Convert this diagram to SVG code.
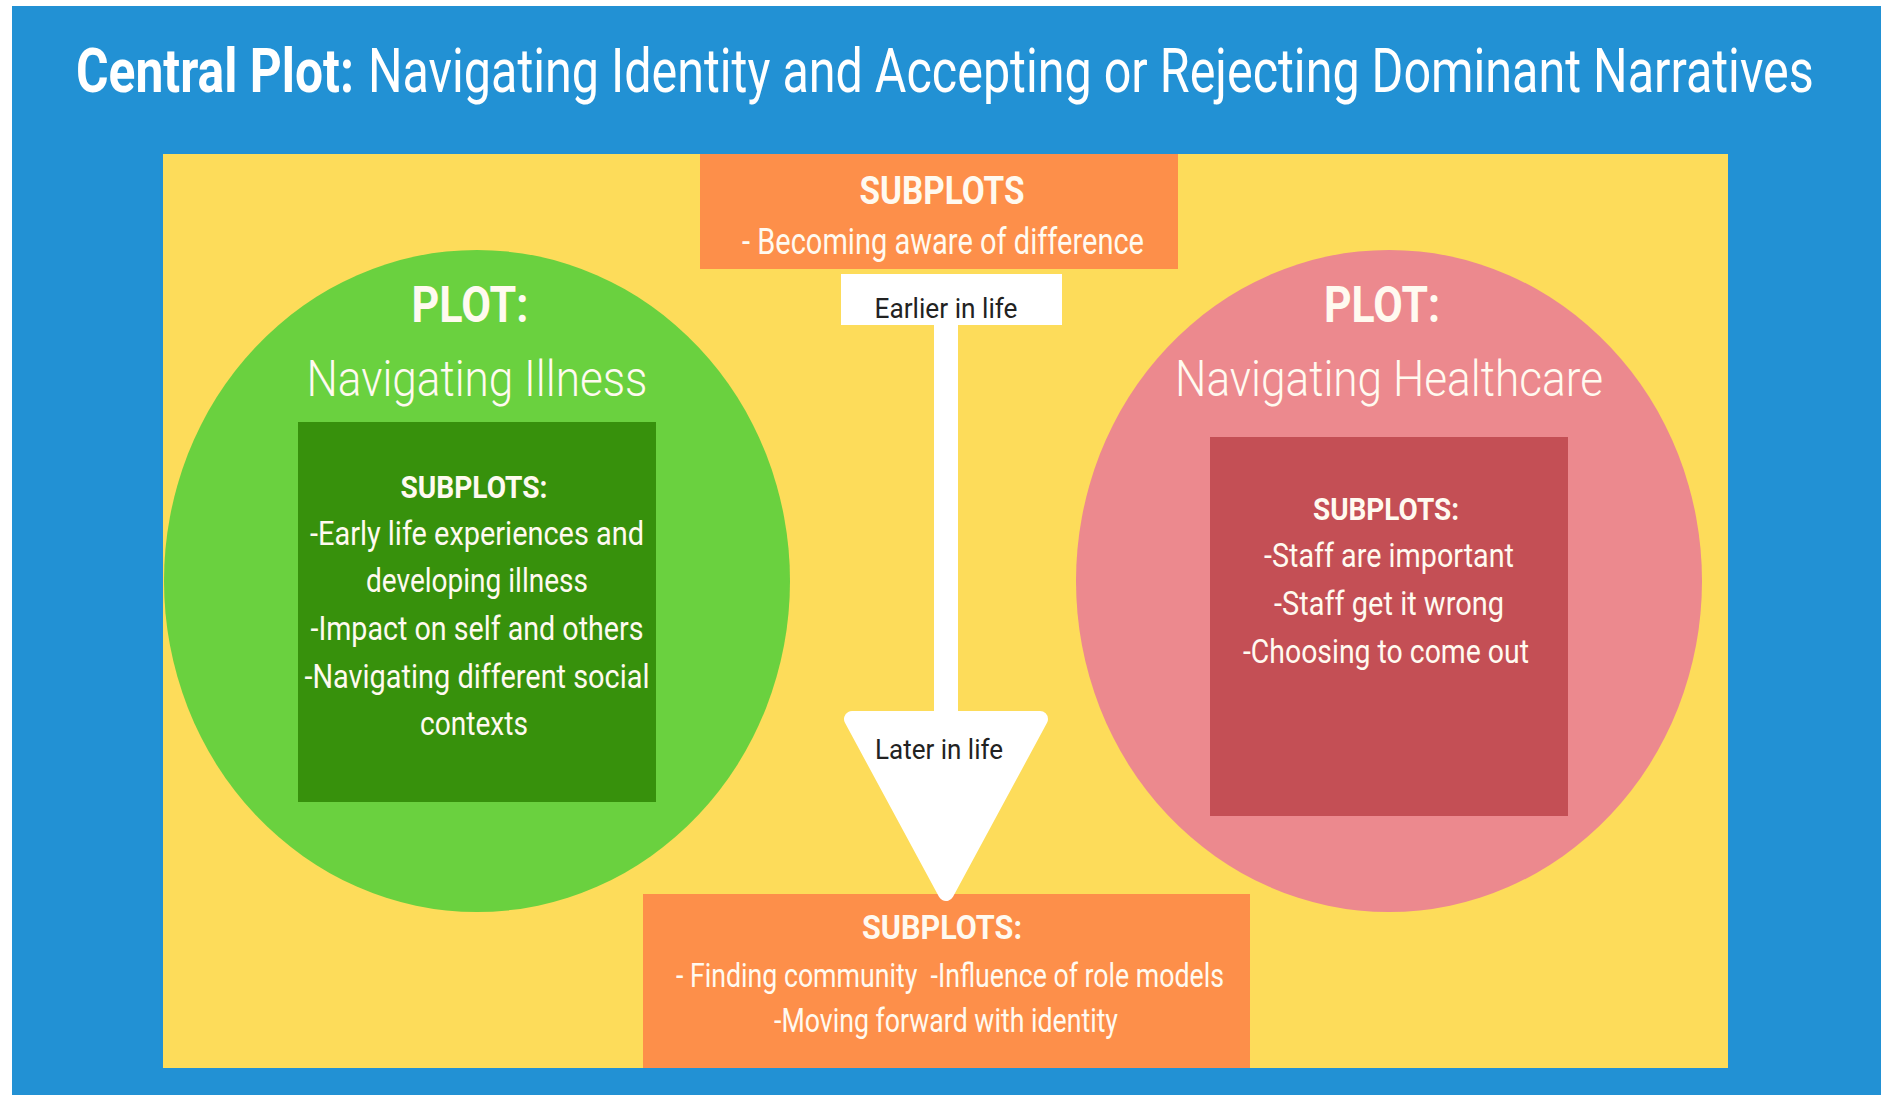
<svg xmlns="http://www.w3.org/2000/svg" width="1881" height="1095" viewBox="0 0 1881 1095">
  <style>
    text { font-family: Roboto, "Liberation Sans", sans-serif; text-anchor: middle; fill: #fffaf0; }
    .b { font-weight: 700; }
    .title { font-size: 62px; text-anchor: start; fill: #ffffff; }
    .plot { font-size: 50px; font-weight: 700; }
    .plotname { font-size: 50px; font-weight: 300; }
    .sub { font-size: 32px; font-weight: 700; }
    .item { font-size: 33px; }
    .dark { fill: #222222; font-size: 28px; }
  </style>

  <!-- page frame -->
  <rect x="0" y="0" width="1881" height="1095" fill="#ffffff"/>
  <rect x="12" y="6" width="1869" height="1089" fill="#2291d4"/>

  <!-- heading, drawn in a horizontally condensed frame -->
  <g id="title">
    <g transform="translate(76 92) scale(0.72 1)">
      <text class="title b" x="0" y="0" textLength="386" lengthAdjust="spacingAndGlyphs">Central Plot:</text>
    </g>
    <g transform="translate(368 92) scale(0.72 1)">
      <text class="title" x="0" y="0" textLength="2008" lengthAdjust="spacingAndGlyphs">Navigating Identity and Accepting or Rejecting Dominant Narratives</text>
    </g>
  </g>

  <!-- yellow panel -->
  <rect id="panel" x="163" y="154" width="1565" height="914" fill="#fddc5a"/>

  <!-- left plot -->
  <g id="plot-illness">
    <ellipse cx="477" cy="581" rx="313" ry="331" fill="#6ad13f"/>
    <rect x="298" y="422" width="358" height="380" fill="#37910c"/>
    <text class="plot" x="470" y="322" textLength="117" lengthAdjust="spacingAndGlyphs">PLOT:</text>
    <text class="plotname" x="477" y="396" textLength="341" lengthAdjust="spacingAndGlyphs">Navigating Illness</text>
    <text class="sub" x="474" y="498" textLength="147" lengthAdjust="spacingAndGlyphs">SUBPLOTS:</text>
    <text class="item" x="477" y="545" textLength="334" lengthAdjust="spacingAndGlyphs">-Early life experiences and</text>
    <text class="item" x="477" y="592" textLength="222" lengthAdjust="spacingAndGlyphs">developing illness</text>
    <text class="item" x="477" y="640" textLength="333" lengthAdjust="spacingAndGlyphs">-Impact on self and others</text>
    <text class="item" x="477" y="688" textLength="345" lengthAdjust="spacingAndGlyphs">-Navigating different social</text>
    <text class="item" x="474" y="735" textLength="108" lengthAdjust="spacingAndGlyphs">contexts</text>
  </g>

  <!-- right plot -->
  <g id="plot-healthcare">
    <ellipse cx="1389" cy="581" rx="313" ry="331" fill="#ec898e"/>
    <rect x="1210" y="437" width="358" height="379" fill="#c44f55"/>
    <text class="plot" x="1382" y="322" textLength="116" lengthAdjust="spacingAndGlyphs">PLOT:</text>
    <text class="plotname" x="1389" y="396" textLength="428" lengthAdjust="spacingAndGlyphs">Navigating Healthcare</text>
    <text class="sub" x="1386" y="520" textLength="146" lengthAdjust="spacingAndGlyphs">SUBPLOTS:</text>
    <text class="item" x="1389" y="567" textLength="250" lengthAdjust="spacingAndGlyphs">-Staff are important</text>
    <text class="item" x="1389" y="615" textLength="230" lengthAdjust="spacingAndGlyphs">-Staff get it wrong</text>
    <text class="item" x="1386" y="663" textLength="286" lengthAdjust="spacingAndGlyphs">-Choosing to come out</text>
  </g>

  <!-- top subplot box -->
  <g id="subplots-early">
    <rect x="700" y="154" width="478" height="115" fill="#fd8f4a"/>
    <text class="b" style="font-size:38px" x="942" y="204" textLength="165" lengthAdjust="spacingAndGlyphs">SUBPLOTS</text>
    <text style="font-size:36px" x="943" y="254" textLength="402" lengthAdjust="spacingAndGlyphs">- Becoming aware of difference</text>
  </g>

  <!-- bottom subplot box -->
  <g id="subplots-later">
    <rect x="643" y="894" width="607" height="174" fill="#fd8f4a"/>
    <text class="b" style="font-size:34px" x="942" y="939" textLength="160" lengthAdjust="spacingAndGlyphs">SUBPLOTS:</text>
    <text style="font-size:33px" x="950" y="987" textLength="548" lengthAdjust="spacingAndGlyphs">- Finding community &#160;-Influence of role models</text>
    <text style="font-size:33px" x="946" y="1032" textLength="344" lengthAdjust="spacingAndGlyphs">-Moving forward with identity</text>
  </g>

  <!-- timeline arrow -->
  <g id="connectors">
    <rect x="841" y="274" width="221" height="51" fill="#ffffff"/>
    <rect x="934" y="320" width="24" height="400" fill="#ffffff"/>
    <path d="M852 719 L1040 719 L946 893 Z" fill="#ffffff" stroke="#ffffff" stroke-width="16" stroke-linejoin="round"/>
    <text class="dark" x="946" y="318" textLength="143" lengthAdjust="spacingAndGlyphs">Earlier in life</text>
    <text class="dark" x="939" y="759" textLength="128" lengthAdjust="spacingAndGlyphs">Later in life</text>
  </g>
</svg>
